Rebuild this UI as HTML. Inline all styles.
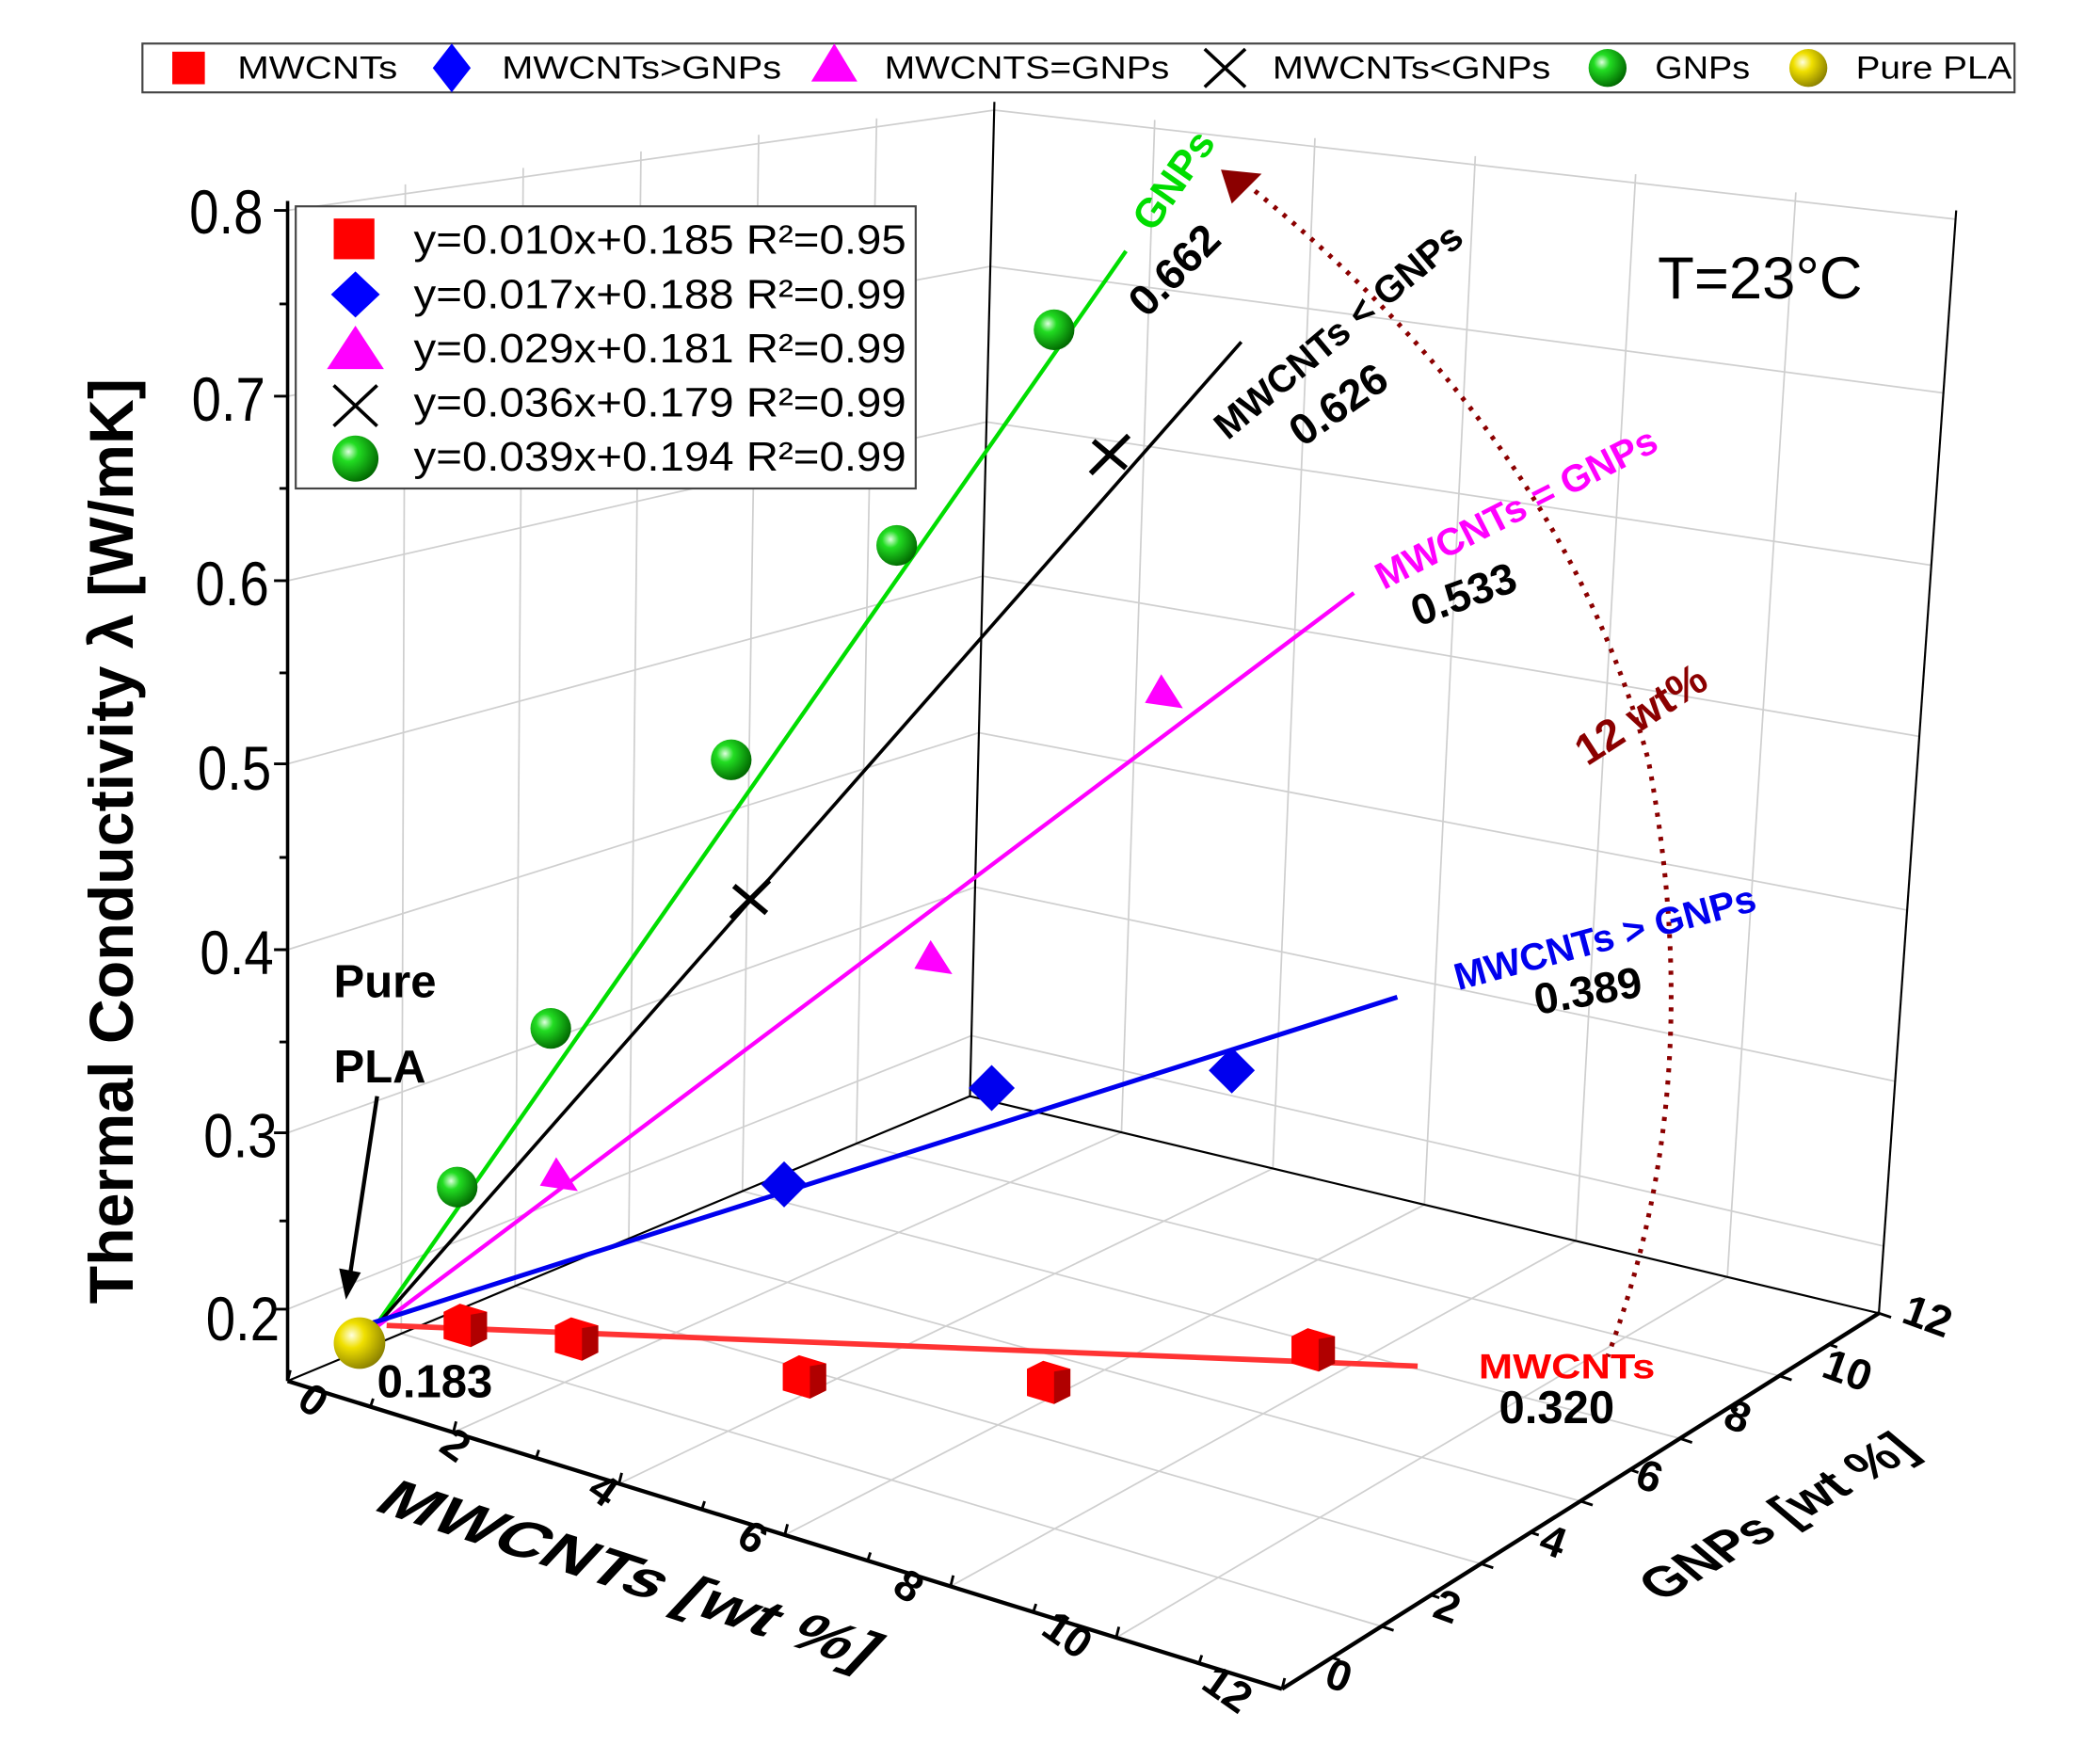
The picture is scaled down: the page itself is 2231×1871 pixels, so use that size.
<!DOCTYPE html>
<html><head><meta charset="utf-8">
<style>
html,body{margin:0;padding:0;background:#fff;}
svg{display:block;}
text{font-family:"Liberation Sans",sans-serif;}
</style></head>
<body>
<svg width="2231" height="1871" viewBox="0 0 1548 1298" xmlns="http://www.w3.org/2000/svg">
<defs>
<radialGradient id="gg" cx="0.35" cy="0.35" r="0.7"><stop offset="0" stop-color="#dfffdf"/><stop offset="0.3" stop-color="#22dd22"/><stop offset="1" stop-color="#006600"/></radialGradient>
<radialGradient id="yg" cx="0.35" cy="0.35" r="0.7"><stop offset="0" stop-color="#ffffe0"/><stop offset="0.35" stop-color="#f0e000"/><stop offset="1" stop-color="#8a8000"/></radialGradient>
</defs>
<g stroke="#cfcfcf" stroke-width="1.2" fill="none">
<path d="M212,965 L716.1,763.4 L1388.5,918.5 M212,835 L718.8,653.9 L1397,797 M212,700 L721.6,540.1 L1405.8,670.8 M212,563 L724.4,424.6 L1414.8,542.8 M212,428 L727.2,310.9 L1423.7,416.6 M212,292 L730,196.3 L1432.6,289.6 M212,155 L732.9,81.1 L1441.5,161.5"/>
<path d="M295.8,983 L298.8,135.8 M379.7,948 L385.7,123.7 M463.5,913 L472.5,111.5 M547.3,878 L559.3,99.3 M631.2,843 L646.2,87.2"/>
<path d="M826.7,834.7 L851.2,88.3 M938.3,861.3 L969.3,101.7 M1050,888 L1087.5,115 M1161.7,914.7 L1205.7,128.3 M1273.3,941.3 L1323.8,141.7"/>
<path d="M334.2,1055.8 L826.7,834.7 M456.3,1093.7 L938.3,861.3 M578.5,1131.5 L1050,888 M700.7,1169.3 L1161.7,914.7 M822.8,1207.2 L1273.3,941.3"/>
<path d="M1018.3,1198.8 L295.8,983 M1091.7,1152.7 L379.7,948 M1165,1106.5 L463.5,913 M1238.3,1060.3 L547.3,878 M1311.7,1014.2 L631.2,843"/>
</g>
<g stroke="#000" fill="none" stroke-width="1.5">
<line x1="212" y1="148" x2="212" y2="1018" stroke-width="2.5"/>
<line x1="733" y1="75" x2="715" y2="808"/>
<line x1="1442" y1="155" x2="1385" y2="968"/>
<line x1="715" y1="808" x2="212" y2="1018"/>
<line x1="715" y1="808" x2="1385" y2="968"/>
<line x1="212" y1="1018" x2="945" y2="1245" stroke-width="3"/>
<line x1="945" y1="1245" x2="1385" y2="968" stroke-width="3"/>
</g>
<g stroke="#000" stroke-width="2" fill="none">
<path d="M212,1018 l2,-8 M273.1,1036.9 l2,-6 M334.2,1055.8 l2,-8 M395.2,1074.8 l2,-6 M456.3,1093.7 l2,-8 M517.4,1112.6 l2,-6 M578.5,1131.5 l2,-8 M639.6,1150.4 l2,-6 M700.7,1169.3 l2,-8 M761.7,1188.3 l2,-6 M822.8,1207.2 l2,-8 M883.9,1226.1 l2,-6 M945,1245 l2,-8"/>
<path d="M981.7,1221.9 l6,2 M1018.3,1198.8 l9,3 M1055,1175.8 l6,2 M1091.7,1152.7 l9,3 M1128.3,1129.6 l6,2 M1165,1106.5 l9,3 M1201.7,1083.4 l6,2 M1238.3,1060.3 l9,3 M1275,1037.3 l6,2 M1311.7,1014.2 l9,3 M1348.3,991.1 l6,2 M1385,968 l9,3"/>
<path d="M212,965 h-10 M212,835 h-10 M212,700 h-10 M212,563 h-10 M212,428 h-10 M212,292 h-10 M212,155 h-10 M212,900 h-6 M212,768 h-6 M212,632 h-6 M212,496 h-6 M212,360 h-6 M212,224 h-6"/>
</g>
<g font-size="46" fill="#000" text-anchor="end">
<text x="194" y="172" transform="translate(29,0) scale(0.85,1)">0.8</text>
<text x="196" y="310" transform="translate(29,0) scale(0.85,1)">0.7</text>
<text x="198" y="446" transform="translate(30,0) scale(0.85,1)">0.6</text>
<text x="200" y="582" transform="translate(30,0) scale(0.85,1)">0.5</text>
<text x="202" y="718" transform="translate(30,0) scale(0.85,1)">0.4</text>
<text x="204" y="853" transform="translate(31,0) scale(0.85,1)">0.3</text>
<text x="206" y="988" transform="translate(31,0) scale(0.85,1)">0.2</text>
</g>
<text transform="translate(98,620) rotate(-90)" font-size="46" font-weight="bold" text-anchor="middle">Thermal Conductivity λ [W/mK]</text>
<g font-size="32" font-weight="bold" text-anchor="middle">
<text transform="translate(231,1032) rotate(35)" y="11">0</text>
<text transform="translate(336,1065) rotate(35)" y="11">2</text>
<text transform="translate(445,1098) rotate(35)" y="11">4</text>
<text transform="translate(555,1133) rotate(35)" y="11">6</text>
<text transform="translate(670,1169) rotate(35)" y="11">8</text>
<text transform="translate(787,1205) rotate(35)" y="11">10</text>
<text transform="translate(905,1245) rotate(35)" y="11">12</text>
<text transform="translate(987,1235) rotate(20)" y="11">0</text>
<text transform="translate(1067,1184) rotate(20)" y="11">2</text>
<text transform="translate(1145,1136) rotate(20)" y="11">4</text>
<text transform="translate(1216,1088) rotate(20)" y="11">6</text>
<text transform="translate(1281,1044) rotate(20)" y="11">8</text>
<text transform="translate(1362,1010) rotate(20)" y="11">10</text>
<text transform="translate(1421,970) rotate(20)" y="11">12</text>
</g>
<text transform="translate(465,1160) rotate(18) skewX(-25)" y="14" font-size="40" font-weight="bold" text-anchor="middle" textLength="380" lengthAdjust="spacingAndGlyphs">MWCNTs [wt %]</text>
<text transform="translate(1310,1118) rotate(-30) skewX(20)" y="12" font-size="36" font-weight="bold" text-anchor="middle" textLength="220" lengthAdjust="spacingAndGlyphs">GNPs [wt %]</text>
<g stroke-width="3" fill="none">
<line x1="275" y1="980" x2="830" y2="185" stroke="#00dd00"/>
<line x1="275" y1="980" x2="915" y2="252" stroke="#000" stroke-width="2.5"/>
<line x1="275" y1="980" x2="998" y2="437" stroke="#ff00ff"/>
<line x1="275" y1="975" x2="1030" y2="735" stroke="#0000ee" stroke-width="3.5"/>
<line x1="285" y1="977" x2="1045" y2="1007" stroke="#ff3333" stroke-width="4"/>
</g>
<path d="M918,135 Q1150,320 1215,560 Q1260,800 1185,1000" stroke="#8b0000" stroke-width="3.5" stroke-dasharray="3,6" fill="none"/>
<polygon points="900,125 930,128 908,150" fill="#8b0000"/>
<g>
<circle cx="337" cy="875" r="15" fill="url(#gg)"/>
<circle cx="406" cy="758" r="15" fill="url(#gg)"/>
<circle cx="539" cy="560" r="15" fill="url(#gg)"/>
<circle cx="661" cy="402" r="15" fill="url(#gg)"/>
<circle cx="777" cy="243" r="15" fill="url(#gg)"/>
<path d="M539,677 L567,649 M541,653 L565,673 M804,349 L832,321 M806,325 L830,345" stroke="#000" stroke-width="4"/>
<polygon points="410,853 426,878 398,874" fill="#ff00ff"/>
<polygon points="686,693 702,718 674,714" fill="#ff00ff"/>
<polygon points="856,497 872,522 844,518" fill="#ff00ff"/>
<polygon points="578,856 595,873 578,890 561,873" fill="#0000ee"/>
<polygon points="731,785 748,802 731,819 714,802" fill="#0000ee"/>
<polygon points="908,772 925,789 908,806 891,789" fill="#0000ee"/>
<g fill="#ff0000">
<polygon points="327,967 339,961 359,967 359,987 347,993 327,987"/>
<polygon points="409,977 421,971 441,977 441,997 429,1003 409,997"/>
<polygon points="577,1005 589,999 609,1005 609,1025 597,1031 577,1025"/>
<polygon points="757,1009 769,1003 789,1009 789,1029 777,1035 757,1029"/>
<polygon points="952,985 964,979 984,985 984,1005 972,1011 952,1005"/>
</g>
<g fill="#b00000">
<polygon points="347,969 359,967 359,987 347,993"/>
<polygon points="429,979 441,977 441,997 429,1003"/>
<polygon points="597,1007 609,1005 609,1025 597,1031"/>
<polygon points="777,1011 789,1009 789,1029 777,1035"/>
<polygon points="972,987 984,985 984,1005 972,1011"/>
</g>
</g>
<circle cx="265" cy="990" r="19" fill="url(#yg)"/>
<g font-weight="bold" font-size="30">
<text transform="translate(850,172) rotate(-55)" fill="#00dd00">GNPs</text>
<text transform="translate(845,235) rotate(-45)" font-size="32">0.662</text>
<text transform="translate(905,325) rotate(-40)" font-size="28">MWCNTs &lt; GNPs</text>
<text transform="translate(960,330) rotate(-35)" font-size="32">0.626</text>
<text transform="translate(1020,435) rotate(-27)" fill="#ff00ff" font-size="28">MWCNTs = GNPs</text>
<text transform="translate(1045,462) rotate(-20)" font-size="32">0.533</text>
<text transform="translate(1170,565) rotate(-33)" fill="#8b0000" font-size="32">12 wt%</text>
<text transform="translate(1075,730) rotate(-15)" fill="#0000ee" font-size="28">MWCNTs &gt; GNPs</text>
<text transform="translate(1133,748) rotate(-10)" font-size="32">0.389</text>
<text x="1090" y="1016" fill="#ff0000" font-size="26" textLength="130" lengthAdjust="spacingAndGlyphs">MWCNTs</text>
<text x="1105" y="1049" font-size="34">0.320</text>
<text x="278" y="1030" font-size="34">0.183</text>
<text x="246" y="735" font-size="34">Pure</text>
<text x="246" y="798" font-size="34">PLA</text>
</g>
<line x1="278" y1="808" x2="258" y2="940" stroke="#000" stroke-width="3"/>
<polygon points="250,935 266,938 255,958" fill="#000"/>
<text x="1222" y="220" font-size="44">T=23°C</text>
<rect x="218" y="152" width="457" height="208" fill="#fff" stroke="#444" stroke-width="1.5"/>
<g font-size="30">
<text x="305" y="187" textLength="363" lengthAdjust="spacingAndGlyphs">y=0.010x+0.185 R²=0.95</text>
<text x="305" y="227" textLength="363" lengthAdjust="spacingAndGlyphs">y=0.017x+0.188 R²=0.99</text>
<text x="305" y="267" textLength="363" lengthAdjust="spacingAndGlyphs">y=0.029x+0.181 R²=0.99</text>
<text x="305" y="307" textLength="363" lengthAdjust="spacingAndGlyphs">y=0.036x+0.179 R²=0.99</text>
<text x="305" y="347" textLength="363" lengthAdjust="spacingAndGlyphs">y=0.039x+0.194 R²=0.99</text>
</g>
<rect x="246" y="161" width="30" height="30" fill="#ff0000"/>
<polygon points="262,200 280,217 262,234 244,217" fill="#0000ff"/>
<polygon points="262,240 283,272 241,272" fill="#ff00ff"/>
<path d="M246,284 L278,314 M278,284 L246,314" stroke="#000" stroke-width="2.5"/>
<circle cx="262" cy="338" r="17" fill="url(#gg)"/>
<rect x="105" y="32" width="1380" height="36" fill="#fff" stroke="#444" stroke-width="1.5"/>
<g font-size="24">
<text x="175" y="58" textLength="118" lengthAdjust="spacingAndGlyphs">MWCNTs</text>
<text x="370" y="58" textLength="206" lengthAdjust="spacingAndGlyphs">MWCNTs&gt;GNPs</text>
<text x="652" y="58" textLength="210" lengthAdjust="spacingAndGlyphs">MWCNTS=GNPs</text>
<text x="938" y="58" textLength="205" lengthAdjust="spacingAndGlyphs">MWCNTs&lt;GNPs</text>
<text x="1220" y="58" textLength="70" lengthAdjust="spacingAndGlyphs">GNPs</text>
<text x="1368" y="58" textLength="115" lengthAdjust="spacingAndGlyphs">Pure PLA</text>
</g>
<rect x="127" y="38" width="24" height="24" fill="#ff0000"/>
<polygon points="333,32 347,50 333,68 319,50" fill="#0000ff"/>
<polygon points="615,32 632,60 598,60" fill="#ff00ff"/>
<path d="M888,36 L918,64 M918,36 L888,64" stroke="#000" stroke-width="2.5"/>
<circle cx="1185" cy="50" r="14" fill="url(#gg)"/>
<circle cx="1333" cy="50" r="14" fill="url(#yg)"/>
</svg>
</body></html>
